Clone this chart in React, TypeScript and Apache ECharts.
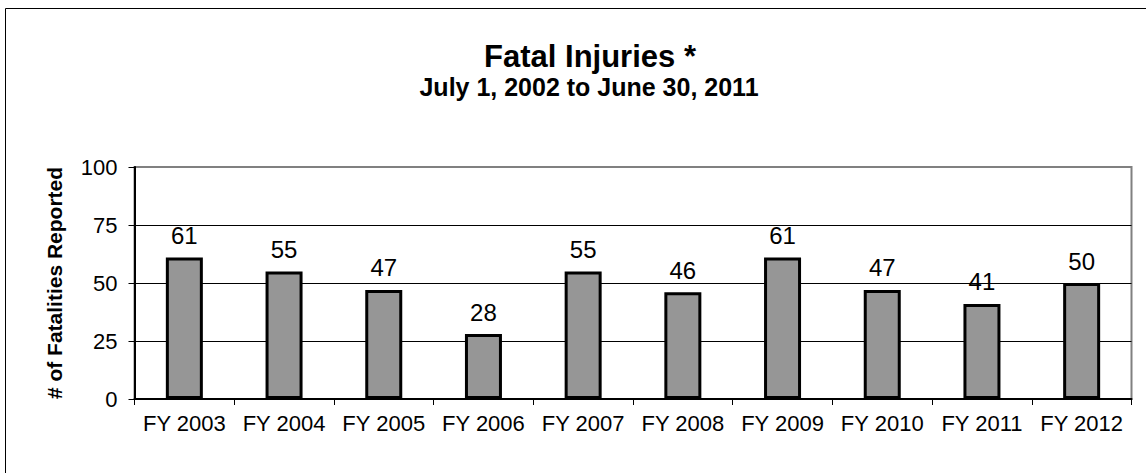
import React, { useEffect, useRef } from "react";
import * as echarts from "echarts";

const categories = ["FY 2003", "FY 2004", "FY 2005", "FY 2006", "FY 2007", "FY 2008", "FY 2009", "FY 2010", "FY 2011", "FY 2012"];
const fatalities = [61, 55, 47, 28, 55, 46, 61, 47, 41, 50];
const yTicks = { min: 0, max: 100, interval: 25 };
const titleText = "Fatal Injuries *";
const subtitleText = "July 1, 2002 to June 30, 2011";
const yAxisName = "# of Fatalities Reported";

const FONT = 'Arial, "Liberation Sans", sans-serif';

export default function App() {
  const ref = useRef<HTMLDivElement>(null);
  useEffect(() => {
    if (!ref.current) return;
    const chart = echarts.init(ref.current, undefined, { renderer: "svg" });
    chart.setOption({
      animation: false,
      backgroundColor: "#ffffff",
      textStyle: { fontFamily: FONT },
      title: [
        {
          text: titleText,
          left: 585,
          top: 36,
          textAlign: "center",
          textStyle: { fontFamily: FONT, fontSize: 31, fontWeight: "bold", color: "#000" },
        },
        {
          text: subtitleText,
          left: 584,
          top: 69,
          textAlign: "center",
          textStyle: { fontFamily: FONT, fontSize: 25, fontWeight: "bold", color: "#000" },
        },
      ],
      graphic: [
        { type: "line", shape: { x1: 5.5, y1: 8.5, x2: 1146, y2: 8.5 }, style: { stroke: "#000", lineWidth: 1 } },
        { type: "line", shape: { x1: 5.5, y1: 8.5, x2: 5.5, y2: 473 }, style: { stroke: "#000", lineWidth: 1 } },
      ],
      grid: {
        left: 134.5,
        right: 14.5,
        top: 167,
        bottom: 74,
        show: true,
        borderColor: "#808080",
        borderWidth: 2,
        backgroundColor: "transparent",
      },
      xAxis: {
        type: "category",
        data: categories,
        boundaryGap: true,
        axisLine: { show: true, lineStyle: { color: "#000", width: 2 } },
        axisTick: { show: true, alignWithLabel: false, length: 6, lineStyle: { color: "#000", width: 1 } },
        axisLabel: { color: "#000", fontSize: 22, fontFamily: FONT, margin: 13, interval: 0 },
        splitLine: { show: false },
      },
      yAxis: {
        type: "value",
        min: yTicks.min,
        max: yTicks.max,
        interval: yTicks.interval,
        name: yAxisName,
        nameLocation: "middle",
        nameRotate: 90,
        nameGap: 70,
        nameTextStyle: { fontFamily: FONT, fontSize: 21, fontWeight: "bold", color: "#000" },
        axisLine: { show: true, lineStyle: { color: "#000", width: 2 } },
        axisTick: { show: true, length: 6, lineStyle: { color: "#000", width: 1 } },
        axisLabel: { color: "#000", fontSize: 22, fontFamily: FONT, margin: 17 },
        splitLine: { show: true, showMaxLine: false, showMinLine: false, lineStyle: { color: "#000", width: 1 } },
      },
      series: [
        {
          type: "bar",
          data: fatalities,
          barWidth: 37,
          itemStyle: { color: "#969696", borderColor: "#000", borderWidth: 3 },
          label: {
            show: true,
            position: "top",
            distance: 10,
            color: "#000",
            fontSize: 24,
            fontFamily: FONT,
          },
        },
      ],
    });
    return () => chart.dispose();
  }, []);
  return <div ref={ref} style={{ position: "fixed", left: 0, top: 0, width: 1146, height: 473 }} />;
}
